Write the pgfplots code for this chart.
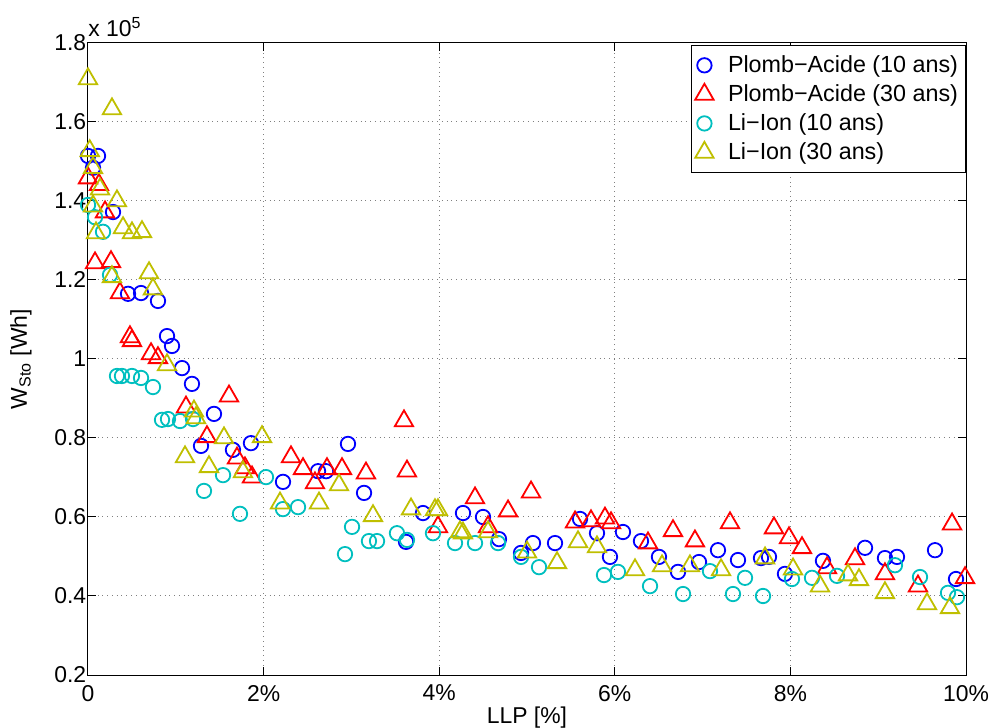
\documentclass[border=0pt]{standalone}
\usepackage{pgfplots}
\pgfplotsset{compat=1.18}
\usepackage{fontspec}
\setmainfont{Liberation Sans}
\definecolor{mblue}{rgb}{0,0,1}
\definecolor{mred}{rgb}{1,0,0}
\definecolor{mcyan}{rgb}{0,0.75,0.75}
\definecolor{myel}{rgb}{0.75,0.75,0}
\pgfplotstableread{
x y
0.000 1.514
0.114 1.514
0.057 1.484
0.285 1.372
0.456 1.165
0.604 1.167
0.797 1.147
0.900 1.058
0.957 1.033
1.071 0.977
1.184 0.937
1.435 0.861
1.287 0.780
1.651 0.770
1.856 0.787
2.221 0.689
2.620 0.716
2.711 0.716
2.961 0.785
3.144 0.661
3.622 0.537
3.815 0.610
4.271 0.610
4.499 0.600
4.681 0.544
4.932 0.509
5.068 0.534
5.319 0.534
5.604 0.595
5.797 0.559
5.945 0.499
6.093 0.562
6.298 0.539
6.503 0.499
6.720 0.461
6.959 0.486
7.175 0.516
7.403 0.491
7.665 0.496
7.756 0.499
7.938 0.456
8.371 0.489
8.850 0.522
9.077 0.496
9.214 0.499
9.647 0.516
9.886 0.443
}\pbten
\pgfplotstableread{
x y
0.000 1.458
0.125 1.441
0.194 1.372
0.080 1.243
0.262 1.246
0.364 1.167
0.478 1.056
0.501 1.046
0.718 1.013
0.797 1.003
1.606 0.906
1.116 0.878
1.355 0.803
1.697 0.749
1.788 0.724
1.868 0.701
2.312 0.752
2.449 0.722
2.585 0.686
2.722 0.722
2.893 0.722
3.166 0.711
3.599 0.843
3.633 0.716
3.986 0.575
4.408 0.648
4.556 0.575
4.784 0.615
5.046 0.663
5.547 0.587
5.729 0.590
5.888 0.597
5.957 0.585
6.378 0.534
6.663 0.565
6.913 0.539
7.312 0.585
7.813 0.572
7.984 0.547
8.132 0.522
8.417 0.471
8.736 0.494
9.077 0.456
9.453 0.425
9.841 0.582
9.989 0.446
}\pbthirty
\pgfplotstableread{
x y
0.000 1.390
0.080 1.359
0.171 1.322
0.251 1.213
0.330 0.957
0.387 0.957
0.501 0.957
0.604 0.952
0.740 0.929
0.843 0.846
0.911 0.848
1.048 0.843
1.196 0.848
1.321 0.666
1.538 0.706
1.731 0.608
2.027 0.701
2.221 0.620
2.392 0.625
2.927 0.506
3.007 0.575
3.200 0.539
3.292 0.539
3.519 0.559
3.633 0.542
3.929 0.559
4.180 0.534
4.408 0.534
4.670 0.534
4.932 0.499
5.137 0.473
5.877 0.453
6.036 0.461
6.401 0.425
6.777 0.405
7.084 0.463
7.346 0.405
7.483 0.446
7.688 0.400
8.018 0.443
8.246 0.446
8.531 0.451
9.191 0.478
9.476 0.448
9.795 0.408
9.897 0.397
}\liten
\pgfplotstableread{
x y
0.000 1.709
0.273 1.633
0.020 1.527
0.057 1.484
0.137 1.430
0.057 1.387
0.330 1.400
0.091 1.319
0.399 1.332
0.501 1.319
0.615 1.322
0.273 1.208
0.695 1.218
0.740 1.177
0.900 0.985
1.207 0.868
1.230 0.851
1.549 0.800
1.982 0.803
1.105 0.752
1.378 0.727
1.765 0.714
2.187 0.635
2.631 0.635
2.859 0.681
3.246 0.603
3.679 0.620
3.952 0.618
3.986 0.618
4.237 0.562
4.271 0.559
4.556 0.562
5.000 0.511
5.342 0.484
5.581 0.537
5.797 0.524
6.230 0.466
6.538 0.476
6.856 0.476
7.210 0.466
7.711 0.496
8.030 0.468
8.337 0.425
8.656 0.453
8.781 0.441
9.077 0.408
9.556 0.380
9.818 0.370
}\lithirty
\begin{document}
\begin{tikzpicture}
\begin{axis}[
  name=ax,
  width=439bp, height=316bp, scale only axis,
  xmin=0, xmax=10, ymin=0.2, ymax=1.8,
  clip=false,
  font=\fontsize{11.5}{13.8}\selectfont,
  /pgf/number format/assume math mode=true,
  xtick={0,2,4,6,8,10},
  xticklabels={0,2\%,4\%,6\%,8\%,10\%},
  ytick={0.2,0.4,0.6,0.8,1,1.2,1.4,1.6,1.8},
  yticklabels={0.2,0.4,0.6,0.8,1,1.2,1.4,1.6,1.8},
  yticklabel style={xshift=2.6bp},
  xticklabel style={yshift=-1.5bp},
  tick align=inside, major tick length=4bp,
  tick style={black, line width=0.5bp},
  axis line style={line width=0.5bp},
  grid=major, grid style={dotted, gray, line width=0.5bp},
  xlabel={LLP [\%]}, ylabel={W\textsubscript{Sto} [Wh]},
  xlabel style={at={(axis description cs:0.5,-0.068)}, anchor=center},
  ylabel style={at={(axis description cs:-0.0763,0.5)}, anchor=center},
  legend cell align=left,
  legend image code/.code={\path[draw=none, fill=none] (0bp,0bp) -- (14.55bp,0bp);
    \draw[only marks] plot coordinates {(4.75bp,0bp)};},
  legend style={at={(rel axis cs:1,0.997)}, anchor=north east,
    draw=black, line width=0.5bp, font=\fontsize{11.7}{14}\selectfont,
    row sep=0.6bp, inner xsep=1.75bp, inner ysep=3bp},
]
\addplot[only marks, mark=o, mark size=3.6bp, color=mblue, line width=0.9bp] table {\pbten};
\addlegendentry{Plomb−Acide (10 ans)}
\addplot[only marks, mark=triangle, mark size=5.3bp, color=mred, line width=0.9bp] table {\pbthirty};
\addlegendentry{Plomb−Acide (30 ans)}
\addplot[only marks, mark=o, mark size=3.6bp, color=mcyan, line width=0.9bp] table {\liten};
\addlegendentry{Li−Ion (10 ans)}
\addplot[only marks, mark=triangle, mark size=5.3bp, color=myel, line width=0.9bp] table {\lithirty};
\addlegendentry{Li−Ion (30 ans)}
\node[anchor=base west, inner sep=0pt, yshift=3bp, font=\fontsize{11.5}{13.8}\selectfont] at (rel axis cs:0,1) {x 10\textsuperscript{5}};
\end{axis}
\pgfresetboundingbox
\path[use as bounding box] ([xshift=-44bp,yshift=-26.5bp]ax.south west) rectangle ([xshift=14bp,yshift=21.5bp]ax.north east);
\end{tikzpicture}
\end{document}
